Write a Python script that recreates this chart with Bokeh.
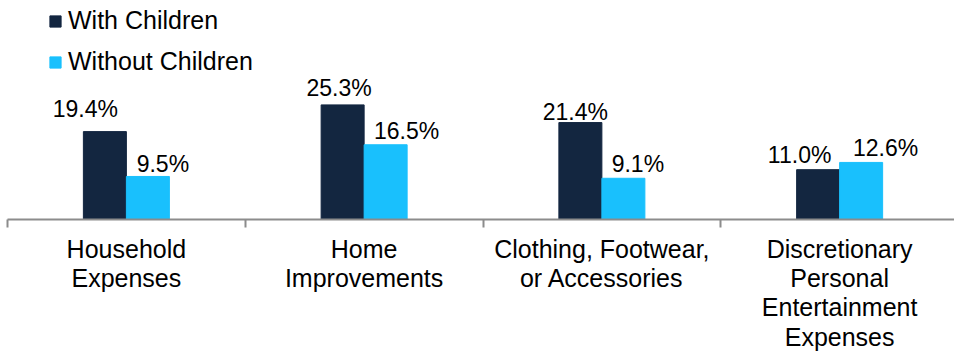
from bokeh.plotting import figure
from bokeh.models import (ColumnDataSource, Range1d, LinearAxis, FixedTicker,
                          LabelSet, Legend, LegendItem)
from bokeh.core.properties import value
from bokeh.embed import file_html
from bokeh.resources import INLINE
import numpy as np

# ---- data ----
categories = ["Household\nExpenses", "Home\nImprovements",
              "Clothing, Footwear,\nor Accessories",
              "Discretionary\nPersonal\nEntertainment\nExpenses"]
series_names = ["With Children", "Without Children"]
with_children = [19.4, 25.3, 21.4, 11.0]
without_children = [9.5, 16.5, 9.1, 12.6]

# ---- style ----
FONT = "Liberation Sans"
DARK = "#132640"
LIGHT = "#19C0FD"
AXIS = "#8c8c8c"
W, H = 954, 354
LEFT, BOTTOM = 7, 135
PX_PER_CAT = 237.75
PX_PER_PCT = 4.53
BAR_W = 43 / PX_PER_CAT
# manual label nudges (pixels) as in the original
dx_with = [-19.5, -3.5, -5, -18.5]
gap_with = [15, 9, 3, 7]
dx_without = [15, 21, 14.5, 24.5]
gap_without = [4, 6, 6, 6]

frame_w = W - LEFT
frame_h = H - BOTTOM

p = figure(width=W, height=H, output_backend="svg", toolbar_location=None,
           x_range=Range1d(0, frame_w / PX_PER_CAT),
           y_range=Range1d(0, frame_h / PX_PER_PCT),
           x_axis_location=None, y_axis_location=None,
           min_border_left=LEFT, min_border_right=0, min_border_top=0,
           min_border_bottom=BOTTOM)
p.outline_line_color = None
p.xgrid.visible = False
p.ygrid.visible = False
p.background_fill_color = "white"
p.border_fill_color = "white"

n = len(categories)
centers = np.arange(n) + 0.5

src = ColumnDataSource(dict(
    x_with=centers - BAR_W / 2,
    x_without=centers + BAR_W / 2,
    with_children=with_children,
    without_children=without_children,
))
r1 = p.vbar(x="x_with", top="with_children", width=BAR_W, bottom=0,
            source=src, fill_color=DARK, line_color=DARK)
r2 = p.vbar(x="x_without", top="without_children", width=BAR_W, bottom=0,
            source=src, fill_color=LIGHT, line_color=LIGHT)

lab1 = ColumnDataSource(dict(
    x=centers - BAR_W / 2,
    y=[v + g / PX_PER_PCT for v, g in zip(with_children, gap_with)],
    dx=dx_with,
    text=[f"{v:.1f}%" for v in with_children]))
lab2 = ColumnDataSource(dict(
    x=centers + BAR_W / 2,
    y=[v + g / PX_PER_PCT for v, g in zip(without_children, gap_without)],
    dx=dx_without,
    text=[f"{v:.1f}%" for v in without_children]))
for s in (lab1, lab2):
    p.add_layout(LabelSet(x="x", y="y", text="text", source=s, x_offset="dx",
                          text_align="center", text_baseline="alphabetic",
                          text_font=value(FONT), text_font_size=value("23px"),
                          text_color=value("black")))

xaxis = LinearAxis(
    ticker=FixedTicker(ticks=list(centers), minor_ticks=list(range(n + 1))),
    major_label_overrides={float(c): lab for c, lab in zip(centers, categories)},
    axis_line_color=AXIS, axis_line_width=2,
    major_tick_in=0, major_tick_out=0,
    minor_tick_in=0, minor_tick_out=8,
    minor_tick_line_color=AXIS, minor_tick_line_width=2,
    major_label_standoff=7,
    major_label_text_font=FONT, major_label_text_font_size="25px",
    major_label_text_line_height=1.05,
    major_label_text_color="black",
)
p.add_layout(xaxis, "below")

legend = Legend(items=[LegendItem(label=series_names[0], renderers=[r1]),
                       LegendItem(label=series_names[1], renderers=[r2])],
                location=(41, 143), orientation="vertical",
                glyph_width=14, glyph_height=14, label_standoff=6,
                spacing=12, padding=0, margin=0,
                label_text_font=FONT, label_text_font_size="25px",
                label_text_color="black",
                border_line_color=None, background_fill_alpha=0)
p.add_layout(legend)

open("out.html", "w").write(file_html(p, INLINE))
